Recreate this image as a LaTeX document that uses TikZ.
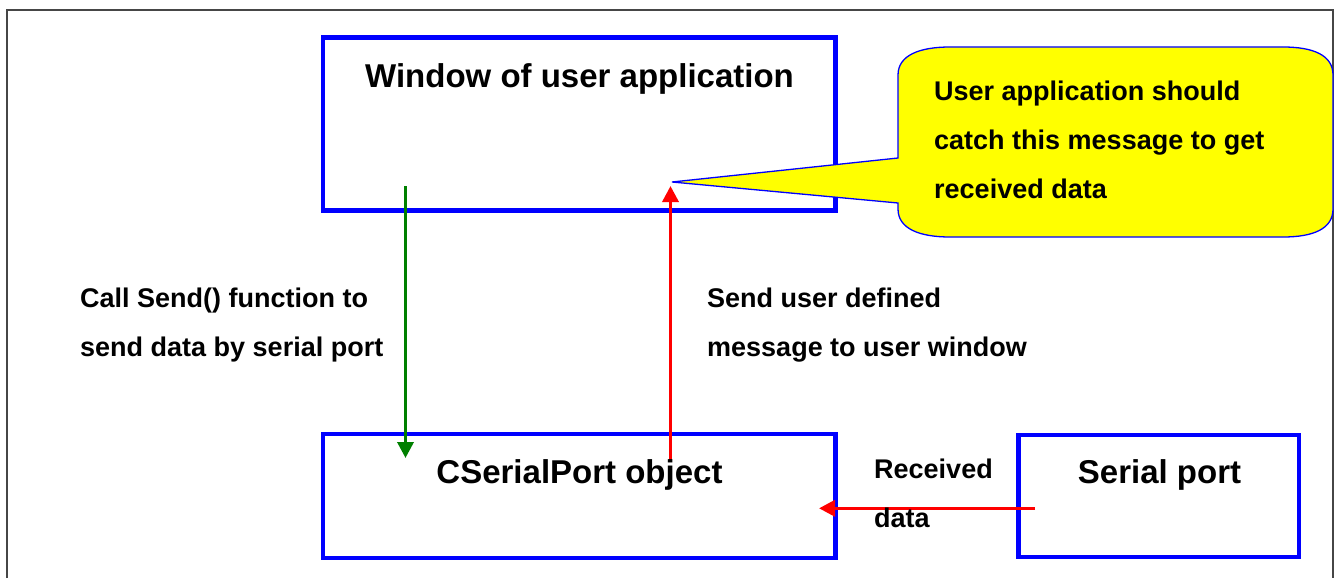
\documentclass[tikz,border=0pt]{standalone}
\usepackage{fontspec}
\setmainfont{Liberation Sans}
\usetikzlibrary{arrows.meta}
\definecolor{frameGray}{RGB}{70,70,70}
\definecolor{arrGreen}{RGB}{0,128,0}
\definecolor{arrRed}{RGB}{255,0,0}
\definecolor{boxBlue}{RGB}{0,0,255}
\definecolor{noteYellow}{RGB}{255,255,0}
\tikzset{
  boxnode/.style={draw=boxBlue, line width=4.5pt, inner sep=0pt, outer sep=0pt},
  titletext/.style={font=\fontsize{33}{40}\selectfont\bfseries, inner sep=0pt, anchor=base},
  labeltext/.style={font=\fontsize{27}{49}\selectfont\bfseries, inner sep=0pt, align=left, anchor=base west},
  flowarrow/.style={line width=3.5pt, -{Triangle[width=16pt,length=16pt]}},
  notebubble/.style={draw=boxBlue, line width=1.3pt, fill=noteYellow},
}
\begin{document}
\begin{tikzpicture}[x=1pt,y=-1pt]
\useasboundingbox (0,0) rectangle (1335,578);
\fill[white] (0,0) rectangle (1335,578);
% outer frame
\draw[frameGray, line width=2pt] (7,578) -- (7,10) -- (1333,10) -- (1333,578);
% boxes
\node[boxnode, minimum width=512.5pt, minimum height=173pt] (win) at (579.25,124) {};
\node[boxnode, minimum width=512.5pt, minimum height=124pt] (csp) at (579.25,496) {};
\node[boxnode, minimum width=280.5pt, minimum height=122pt] (sp) at (1158.75,496) {};
% connector end points
\coordinate (gStart) at (405.5,186);
\coordinate (gEnd) at (405.5,458);
\coordinate (rStart) at (670.5,462);
\coordinate (rEnd) at (670.5,186);
\coordinate (hStart) at (1035,508.3);
\coordinate (hEnd) at (819,508.3);
% arrows
\draw[flowarrow, arrGreen] (gStart) -- (gEnd);
\draw[flowarrow, arrRed] (rStart) -- (rEnd);
\draw[flowarrow, arrRed] (hStart) -- (hEnd);
% box texts
\node[titletext] (wint) at (579.5,87) {Window of user application};
\node[titletext] (cspt) at (579.5,483) {CSerialPort object};
\node[titletext] (spt) at (1159.5,483) {Serial port};
% labels (anchor at baseline of last line)
\node[labeltext] (sendlbl) at (80,356) {Call Send() function to\\send data by serial port};
\node[labeltext] (msglbl) at (707,356) {Send user defined\\message to user window};
\node[labeltext] (rcvlbl) at (874,527) {Received\\data};
% callout
\draw[notebubble] (672,182) -- (898,158) -- (898,75)
  .. controls (898,55) and (920,47) .. (950,47) -- (1283,47)
  .. controls (1313,47) and (1333,55) .. (1333,75) -- (1333,209)
  .. controls (1333,229) and (1313,237) .. (1283,237) -- (950,237)
  .. controls (920,237) and (898,229) .. (898,209) -- (898,203) -- cycle;
\node[labeltext] (notetext) at (934,198) {User application should\\catch this message to get\\received data};
\end{tikzpicture}
\end{document}
